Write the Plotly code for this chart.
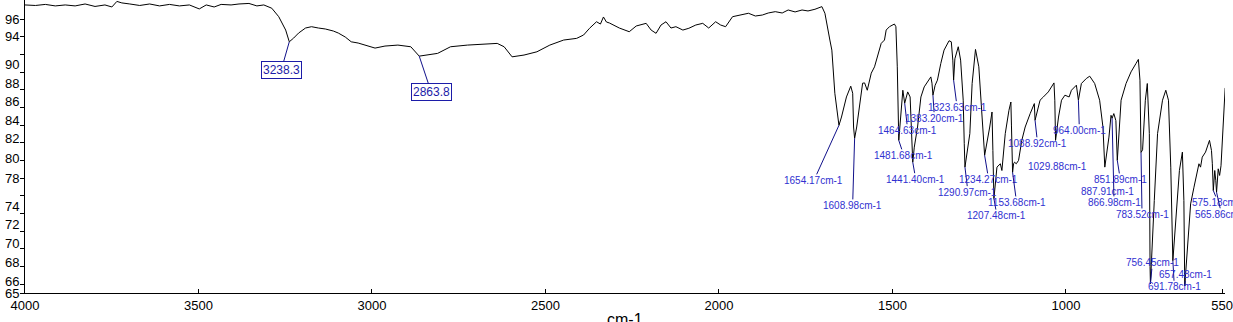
import plotly.graph_objects as go

# ---- spectrum data (wavenumber cm-1, %T) ----
wavenumber = [
    4000, 3969.9, 3941.3, 3912.7, 3884.1, 3855.5, 3826.8, 3798.2, 3769.6, 3749.6,
    3735.2, 3720.9, 3698.0, 3669.4, 3640.8, 3612.2, 3583.6, 3554.9, 3526.3, 3497.7,
    3477.7, 3454.8, 3434.7, 3406.1, 3383.2, 3354.6, 3331.7, 3311.7, 3288.8, 3268.7,
    3248.7, 3238.3, 3225.8, 3211.5, 3191.5, 3174.3, 3154.3, 3134.3, 3111.3, 3097.0,
    3077.0, 3059.8, 3039.8, 3019.7, 2991.1, 2962.5, 2925.3, 2888.1, 2880.0, 2863.8,
    2810.8, 2773.6, 2724.9, 2676.3, 2639.1, 2619.1, 2596.2, 2561.8, 2524.6, 2487.4,
    2447.5, 2410.1, 2390.1, 2372.9, 2352.9, 2341.5, 2332.9, 2324.3, 2315.7, 2287.1,
    2258.5, 2238.4, 2209.8, 2195.5, 2181.2, 2166.9, 2152.6, 2138.3, 2124.0, 2103.9,
    2086.7, 2066.7, 2046.7, 2029.5, 2009.5, 1995.2, 1980.8, 1960.8, 1937.9, 1915.0,
    1895.0, 1874.9, 1857.8, 1837.7, 1817.7, 1800.5, 1780.5, 1760.5, 1743.3, 1723.3,
    1703.3, 1694.6, 1680.3, 1674.6, 1666.0, 1657.4, 1654.17, 1646.8, 1632.5, 1620.1,
    1614.5, 1612.0, 1608.98, 1603.0, 1589.6, 1585.9, 1580.2, 1572.5, 1561.0, 1551.6,
    1532.4, 1522.9, 1518.0, 1508.6, 1494.3, 1490.0, 1486.0, 1481.68, 1470.0, 1464.63,
    1456.0, 1449.0, 1441.4, 1437.0, 1427.6, 1417.9, 1408.4, 1397.0, 1389.3, 1386.0,
    1383.2, 1377.0, 1370.3, 1360.6, 1351.2, 1336.8, 1330.3, 1326.0, 1323.63, 1320.0,
    1314.9, 1310.3, 1303.5, 1296.0, 1293.0, 1290.97, 1276.9, 1270.3, 1260.6, 1251.0,
    1241.6, 1236.0, 1234.27, 1219.6, 1213.0, 1210.5, 1207.48, 1198.8, 1189.0, 1184.5,
    1174.8, 1164.2, 1158.6, 1157.0, 1155.0, 1153.68, 1150.9, 1148.0, 1143.1, 1136.5,
    1127.1, 1117.4, 1103.0, 1091.0, 1088.92, 1082.2, 1074.5, 1065.0, 1050.7, 1034.4,
    1032.0, 1029.88, 1021.3, 1012.7, 1002.9, 990.7, 984.1, 969.8, 964.0, 955.4,
    941.2, 931.4, 917.1, 902.8, 893.3, 887.91, 876.0, 870.0, 866.98, 862.0,
    856.0, 851.89, 841.0, 826.7, 812.3, 798.0, 791.2, 786.6, 783.52, 779.0,
    771.1, 765.4, 759.6, 757.5, 756.45, 745.3, 735.9, 721.6, 712.1, 704.4,
    697.8, 691.78, 681.5, 672.9, 664.3, 660.0, 657.48, 650.1, 640.6, 630.9,
    621.4, 616.6, 612.0, 607.1, 597.6, 586.2, 580.5, 578.0, 575.18, 571.0,
    568.0, 565.86, 561.0, 557.0, 553.0, 549.0, 545.0, 541.0,
]
transmittance = [
    97.59, 97.53, 97.65, 97.48, 97.59, 97.48, 97.70, 97.42, 97.59, 97.36,
    97.99, 97.82, 97.70, 97.53, 97.70, 97.48, 97.65, 97.48, 97.59, 97.14,
    97.59, 97.36, 97.65, 97.59, 97.70, 97.76, 97.48, 97.59, 97.22, 96.26,
    94.75, 93.42, 93.84, 94.41, 94.98, 95.13, 94.98, 94.87, 94.64, 94.41,
    93.96, 93.42, 93.28, 93.05, 92.71, 92.94, 93.05, 92.86, 92.50, 91.80,
    92.11, 92.86, 93.05, 93.16, 93.24, 92.86, 91.72, 91.92, 92.29, 93.05,
    93.62, 93.81, 94.19, 94.95, 95.69, 95.43, 96.23, 95.66, 95.55, 94.98,
    94.56, 95.21, 95.51, 94.75, 94.38, 95.32, 95.69, 94.98, 95.13, 94.75,
    94.95, 95.32, 95.51, 94.98, 95.69, 95.32, 95.13, 96.26, 96.45, 96.65,
    96.34, 96.45, 96.68, 96.83, 96.68, 97.02, 96.80, 97.02, 96.91, 97.10,
    97.40, 96.65, 93.62, 92.48, 87.60, 84.54, 83.97, 84.91, 87.18, 88.40,
    87.60, 83.78, 82.49, 83.78, 87.60, 88.74, 88.77, 87.94, 89.87, 90.59,
    93.24, 93.62, 94.75, 95.13, 95.43, 95.13, 90.59, 82.27, 87.94, 86.47,
    87.75, 87.18, 79.80, 81.50, 83.78, 87.18, 88.32, 89.08, 89.45, 88.74,
    87.38, 88.50, 89.08, 90.97, 92.48, 93.54, 93.42, 91.35, 89.08, 91.50,
    92.11, 92.86, 91.35, 86.81, 81.89, 79.24, 83.03, 88.70, 92.56, 90.59,
    84.91, 81.20, 80.57, 83.78, 85.48, 81.13, 75.68, 79.24, 79.62, 78.86,
    83.03, 85.67, 86.61, 84.00, 81.50, 78.64, 79.62, 79.80, 79.62, 80.00,
    82.27, 83.78, 85.30, 86.43, 84.54, 85.67, 86.81, 87.18, 87.75, 88.77,
    86.81, 82.27, 84.91, 86.81, 87.38, 87.18, 87.94, 88.51, 86.81, 88.70,
    89.27, 89.53, 88.70, 86.81, 83.78, 79.24, 82.64, 85.10, 84.76, 85.30,
    84.50, 80.00, 86.81, 88.70, 90.02, 90.97, 91.43, 89.08, 80.90, 81.20,
    86.81, 88.70, 83.03, 68.00, 66.04, 75.46, 83.03, 86.81, 87.94, 86.81,
    79.24, 68.65, 74.32, 78.86, 80.94, 75.46, 65.81, 69.78, 75.08, 76.97,
    78.86, 79.62, 79.24, 80.37, 80.94, 82.27, 81.13, 79.62, 76.59, 78.86,
    77.70, 76.40, 79.05, 78.30, 79.40, 82.30, 86.60, 88.20,
]

# ---- picked peaks ----
peak_labels = [
    "3238.3", "2863.8",
    "1654.17cm-1", "1608.98cm-1", "1464.63cm-1", "1481.68cm-1", "1441.40cm-1",
    "1383.20cm-1", "1323.63cm-1", "1290.97cm-1", "1234.27cm-1", "1207.48cm-1",
    "1153.68cm-1", "1088.92cm-1", "1029.88cm-1", "964.00cm-1", "887.91cm-1",
    "866.98cm-1", "851.89cm-1", "783.52cm-1", "756.45cm-1", "691.78cm-1",
    "657.48cm-1", "575.18cm-1", "565.86cm-1",
]
peak_wn = [
    3238.3, 2863.8,
    1654.17, 1608.98, 1464.63, 1481.68, 1441.40,
    1383.20, 1323.63, 1290.97, 1234.27, 1207.48,
    1153.68, 1088.92, 1029.88, 964.00, 887.91,
    866.98, 851.89, 783.52, 756.45, 691.78,
    657.48, 575.18, 565.86,
]
peak_T = [
    93.42, 91.80,
    83.97, 82.49, 86.47, 82.27, 79.80,
    87.38, 89.08, 79.24, 80.57, 75.68,
    78.64, 84.54, 82.27, 86.81, 79.24,
    84.76, 80.00, 80.90, 66.04, 68.65,
    65.81, 76.59, 76.40,
]
boxed = [True, True] + [False] * 23

# label offsets from the peak point (pixels) -- layout only
label_dx = [-8, 12, -25, -2, 3, 5, 3, 1.5, 3.5, 3, 4, 3, 4, 2.5, 2, 1, 3, 2, 3, 1, 2, 1.5, 1, 5, 5]
label_dy = [28, 36, 55, 67, 27, 15, 17, 23, 27, 25, 24, 17, 30, 23, 26, 30, 24, 84, 19, 62, -21, 26, -11, 12, 22]

x_ticks = [4000, 3500, 3000, 2500, 2000, 1500, 1000, 550]
y_ticks = [65, 66, 68, 70, 72, 74, 76, 78, 80, 82, 84, 86, 88, 90, 92, 94, 96]
y_ticktext = ["65", "66", "68", "70", "72", "74", "", "78", "80", "82", "84", "86", "88", "90", "", "94", "96"]
# vertical nudge (px, up) of each y tick label as drawn in the reference
y_label_shift = [0, 2.3, 4, 5.3, 6.7, 7.3, 0, 0, 1.7, 4.3, 5, 5.6, 6.6, 7.7, 0, 0.6, 0]

FONT = "Liberation Sans, Arial, sans-serif"

fig = go.Figure()
fig.add_trace(go.Scatter(
    x=wavenumber, y=transmittance, mode="lines",
    line=dict(color="black", width=1), hoverinfo="skip", showlegend=False,
))

for lab, wn, t, bx, dx, dy in zip(peak_labels, peak_wn, peak_T, boxed, label_dx, label_dy):
    ann = dict(
        x=wn, y=t, xref="x", yref="y", text=lab,
        showarrow=True, arrowhead=0, arrowwidth=1, arrowcolor="#10108a",
        ax=dx, ay=dy, standoff=0, startstandoff=0,
        xanchor="center", yanchor="middle",
    )
    if bx:
        ann.update(font=dict(family=FONT, size=12, color="#1c1ca8"),
                   bordercolor="#1c1ca8", borderwidth=1, borderpad=1, bgcolor="white")
    else:
        ann.update(font=dict(family=FONT, size=10, color="#3030d0"), borderpad=0)
    fig.add_annotation(**ann)

# y tick labels (drawn as text so each can sit where the reference puts it)
for v, txt, sh in zip(y_ticks, y_ticktext, y_label_shift):
    if txt:
        fig.add_annotation(
            text=txt, x=0, xref="paper", y=v, yref="y",
            xanchor="right", yanchor="middle", xshift=-4.5, yshift=sh,
            showarrow=False, font=dict(family=FONT, size=13, color="black"),
        )

fig.add_annotation(
    text="cm-1", x=0.5, y=-0.089, xref="paper", yref="paper",
    showarrow=False, xanchor="center", yanchor="middle",
    font=dict(family=FONT, size=16, color="black"),
)

fig.update_layout(
    width=1233, height=322,
    margin=dict(l=25, r=0, t=0, b=29),
    paper_bgcolor="white", plot_bgcolor="white",
    font=dict(family=FONT, size=13, color="black"),
    xaxis=dict(
        range=[4000, 541.5], tickvals=x_ticks, ticktext=[str(v) for v in x_ticks],
        showgrid=False, zeroline=False, showline=True, linecolor="black", linewidth=1,
        ticks="inside", ticklen=4, tickcolor="black", ticklabeloverflow="allow",
        tickfont=dict(family=FONT, size=13, color="black"),
    ),
    yaxis=dict(
        range=[65, 98.15], tickvals=y_ticks, showticklabels=False,
        showgrid=False, zeroline=False, showline=True, linecolor="black", linewidth=1,
        ticks="outside", ticklen=4, tickcolor="black",
    ),
)

fig.write_html("out.html")
